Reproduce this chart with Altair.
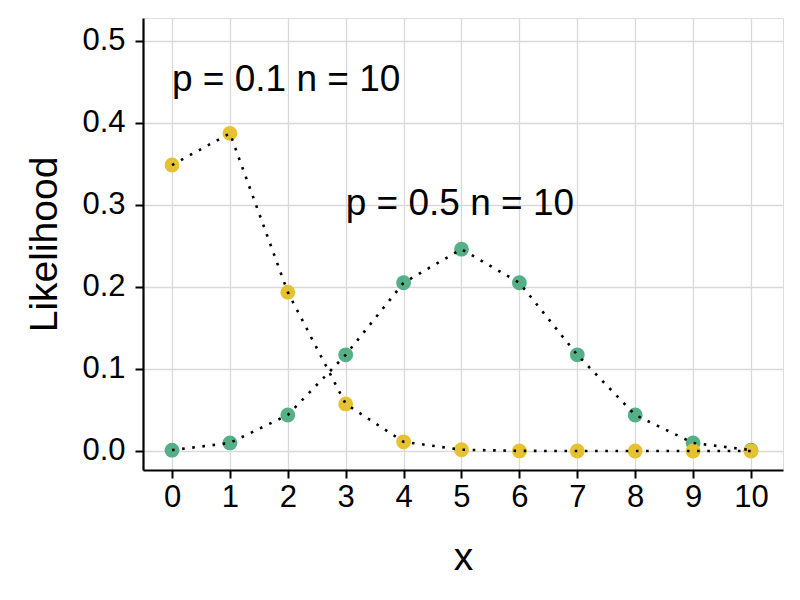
import altair as alt
import pandas as pd

xs = [0, 1, 2, 3, 4, 5, 6, 7, 8, 9, 10]
p05 = [0.001, 0.0098, 0.0439, 0.1172, 0.2051, 0.2461, 0.2051, 0.1172, 0.0439, 0.0098, 0.001]
p01 = [0.3487, 0.3874, 0.1937, 0.0574, 0.0112, 0.0015, 0.0001, 0.0, 0.0, 0.0, 0.0]
series = ["p05", "p01"]
colors = ["#55B088", "#E6C232"]

labels = ["p = 0.1 n = 10", "p = 0.5 n = 10"]
label_x = [0, 3]
label_y = [0.453, 0.301]

rows = []
for x, v in zip(xs, p05):
    rows.append({"x": x, "y": v, "s": "p05"})
for x, v in zip(xs, p01):
    rows.append({"x": x, "y": v, "s": "p01"})
df = pd.DataFrame(rows)
lab = pd.DataFrame({"x": label_x, "y": label_y, "t": labels})

xscale = alt.Scale(domain=[-0.501, 10.553], nice=False, zero=False)
yscale = alt.Scale(domain=[-0.0232, 0.528], nice=False, zero=False)

common = dict(grid=True, labelFontSize=31, titleFontSize=39, tickSize=8, tickWidth=2,
              domainWidth=2.2, labelColor="black", titleColor="black", domainColor="black",
              tickColor="black", gridColor="#D9D9D9", gridWidth=1.3, titleFontWeight="normal",
              labelFont="Liberation Sans", titleFont="Liberation Sans")
xax = alt.Axis(values=xs, format="d", title="x", labelPadding=4, titlePadding=26, **common)
yax = alt.Axis(values=[0, 0.1, 0.2, 0.3, 0.4, 0.5], format=".1f", title="Likelihood",
               labelPadding=10, titlePadding=17, **common)

base = alt.Chart(df)
pts = base.mark_circle(size=220, opacity=1).encode(
    x=alt.X("x:Q", scale=xscale, axis=xax),
    y=alt.Y("y:Q", scale=yscale, axis=yax),
    color=alt.Color("s:N", scale=alt.Scale(domain=series, range=colors), legend=None),
    order=alt.Order("s:N", sort="descending"),
)
lines = base.mark_line(color="black", strokeDash=[2.6, 7.6], strokeWidth=2.6, strokeCap="butt").encode(
    x=alt.X("x:Q", scale=xscale, axis=xax),
    y=alt.Y("y:Q", scale=yscale, axis=yax),
    detail="s:N",
)
txt = alt.Chart(lab).mark_text(align="left", baseline="middle", fontSize=37, color="black",
                               font="Liberation Sans").encode(
    x=alt.X("x:Q", scale=xscale, axis=xax),
    y=alt.Y("y:Q", scale=yscale, axis=yax),
    text="t:N",
)

chart = alt.layer(pts, lines, txt).properties(
    width=640, height=452,
    autosize=alt.AutoSizeParams(type="none"),
    padding={"left": 135, "top": 10, "right": 9, "bottom": 114},
).configure_view(stroke=None).configure(font="Liberation Sans")

chart.save("out.html", embed_options={"renderer": "svg", "actions": False})
